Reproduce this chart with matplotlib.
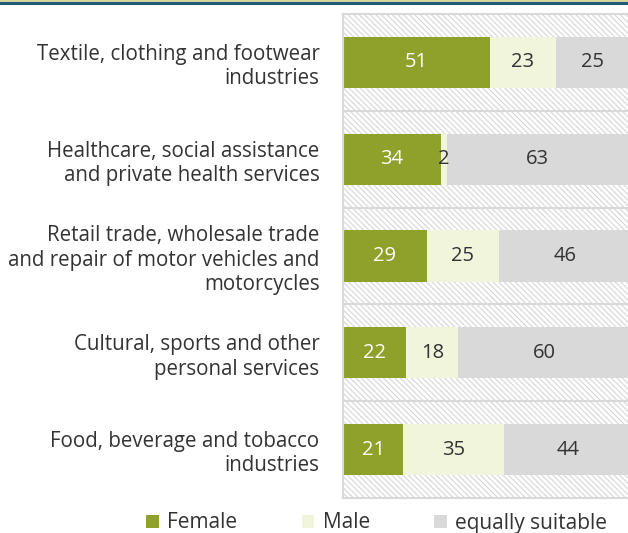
import matplotlib.pyplot as plt
from matplotlib.patches import Rectangle
import numpy as np

categories = ["Textile, clothing and footwear\nindustries",
              "Healthcare, social assistance\nand private health services",
              "Retail trade, wholesale trade\nand repair of motor vehicles and\nmotorcycles",
              "Cultural, sports and other\npersonal services",
              "Food, beverage and tobacco\nindustries"]
female = [51, 34, 29, 22, 21]
male = [23, 2, 25, 18, 35]
equal = [25, 63, 46, 60, 44]
series_names = ["Female", "Male", "equally suitable"]

colors = ["#8fa12b", "#f0f5dc", "#d9d9d9"]
text_colors = ["white", "#333333", "#333333"]

plt.rcParams['font.family'] = ['Open Sans', 'DejaVu Sans']
plt.rcParams['hatch.linewidth'] = 0.8

fig = plt.figure(figsize=(6.28, 5.33), dpi=100)
ax = fig.add_axes([343/628, 35/533, 288/628, 484/533])

# hatched background
bg = Rectangle((0, 0), 1, 1, transform=ax.transAxes, facecolor="white",
               edgecolor="#d6d6d6", hatch="\\" * 6, lw=0, zorder=0)
ax.add_patch(bg)

y = np.arange(len(categories))
left = np.zeros(len(categories))
for vals, col, tcol, name in zip([female, male, equal], colors, text_colors, series_names):
    bars = ax.barh(y, vals, left=left, height=0.53, color=col, label=name, zorder=2)
    for b, v in zip(bars, vals):
        ax.text(b.get_x() + b.get_width() / 2, b.get_y() + b.get_height() / 2, str(v),
                ha="center", va="center", color=tcol, fontsize=14.5, zorder=3)
    left += np.array(vals)

for yy in np.arange(0.5, len(categories) - 0.5):
    ax.axhline(yy, color="#d9d9d9", lw=1.5, zorder=1)

ax.set_xlim(0, 100)
ax.set_ylim(len(categories) - 0.5, -0.5)
ax.set_xticks([])
ax.set_yticks(y)
ax.set_yticklabels(categories, fontsize=14.8, color="#333333", linespacing=1.2)
ax.tick_params(axis="y", length=0, pad=17)
for s in ax.spines.values():
    s.set_color("#d9d9d9")
    s.set_linewidth(1.5)

# top decorative lines
fig.add_artist(plt.Line2D([0, 1], [1 - 0.5/533, 1 - 0.5/533], color="#d8d49a", lw=1.5))
fig.add_artist(plt.Line2D([0, 1], [1 - 3/533, 1 - 3/533], color="#1f5a7a", lw=2.2))

fig.legend(loc="center", bbox_to_anchor=(0.6, 10/533), ncol=3, frameon=False,
           fontsize=15, handlelength=0.6, handleheight=0.6, columnspacing=3.1,
           handletextpad=0.4, labelcolor="#333333")

fig.savefig("out.png", dpi=100)
